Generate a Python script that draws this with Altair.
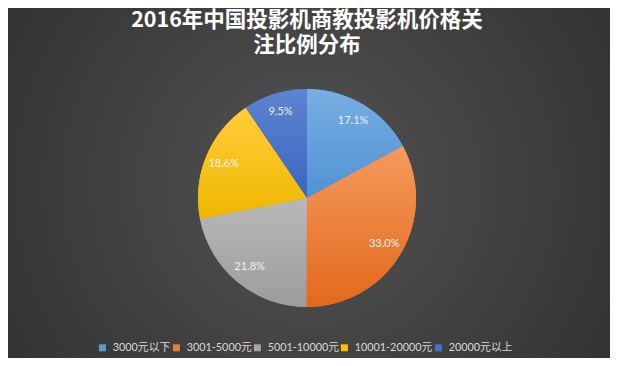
import math
import altair as alt
import pandas as pd

# ---- data ----
categories = ["3000元以下", "3001-5000元", "5001-10000元", "10001-20000元", "20000元以上"]
shares = [17.1, 33.0, 21.8, 18.6, 9.5]
slice_order = [1, 2, 3, 4, 5]
labels = ["17.1%", "33.0%", "21.8%", "18.6%", "9.5%"]

base_colors = ["#5B9BD5", "#ED7D31", "#A5A5A5", "#FFC000", "#4472C4"]
top_colors = ["#78AEE2", "#F59A5E", "#B8B8B8", "#FFCD3A", "#5C84D2"]
bottom_colors = ["#4F93D3", "#E3691B", "#9C9C9C", "#EFB700", "#3A66BE"]

title_lines = ["2016年中国投影机商教投影机价格关", "注比例分布"]

df = pd.DataFrame({"category": categories, "share": shares,
                   "order": slice_order, "label": labels})
bg_df = pd.DataFrame({"bg": [0]})

W, H = 598, 320
R = 109
FONT = "Lato, Noto Sans CJK SC"

theta_scale = alt.Scale(domain=[0, 100], range=[0, 2 * math.pi])

base = (
    alt.Chart(df)
    .transform_window(cum="sum(share)", sort=[alt.SortField("order")], frame=[None, 0])
    .transform_calculate(start="datum.cum - datum.share",
                         mid="datum.cum - datum.share / 2")
)

bg = alt.Chart(bg_df).mark_rect(
    color=alt.RadialGradient(
        gradient="radial", x1=0.5, y1=0.5, r1=0, x2=0.5, y2=0.5, r2=0.72,
        stops=[alt.GradientStop(color="#535353", offset=0),
               alt.GradientStop(color="#2b2b2b", offset=1)],
    )
).encode(x=alt.value(0), x2=alt.value(W + 4), y=alt.value(-30), y2=alt.value(H))

arcs = base.mark_arc(outerRadius=R).encode(
    theta=alt.Theta("start:Q", stack=None, scale=theta_scale),
    theta2="cum:Q",
    color=alt.Color("category:N", scale=alt.Scale(domain=categories, range=base_colors),
                    legend=alt.Legend(title=None)),
)

grad_layers = []
for cat, top, bot in zip(categories, top_colors, bottom_colors):
    grad_layers.append(
        base.transform_filter(alt.datum.category == cat)
        .mark_arc(outerRadius=R, color=alt.LinearGradient(
            gradient="linear", x1=0, y1=0, x2=0, y2=1,
            stops=[alt.GradientStop(color=top, offset=0),
                   alt.GradientStop(color=bot, offset=1)]))
        .encode(theta=alt.Theta("start:Q", stack=None, scale=theta_scale),
                theta2="cum:Q")
    )

text = base.mark_text(radius=90, fontSize=11, font=FONT, color="#f0f0f0").encode(
    theta=alt.Theta("mid:Q", stack=None, scale=theta_scale),
    text="label:N",
)

chart = (
    alt.layer(bg, arcs, *grad_layers, text)
    .properties(
        width=W, height=H,
        padding={"left": 0, "top": 30, "right": 4, "bottom": 0},
        autosize=alt.AutoSizeParams(type="none"),
        background="#3a3a3a",
        title=alt.Title(title_lines, font="Noto Sans CJK SC", fontSize=21.5,
                        fontWeight="bold", color="#ffffff", anchor="middle",
                        frame="group", lineHeight=25, offset=-48.5),
    )
    .configure_view(stroke=None)
    .configure_legend(
        orient="none", legendX=89, legendY=304, direction="horizontal",
        symbolType="square", symbolSize=49, symbolStrokeWidth=0,
        labelFont=FONT, labelFontSize=10.8, labelColor="#d9d9d9",
        columnPadding=0, labelOffset=5,
    )
)

chart.save("out.html", embed_options={"renderer": "svg", "actions": False})
